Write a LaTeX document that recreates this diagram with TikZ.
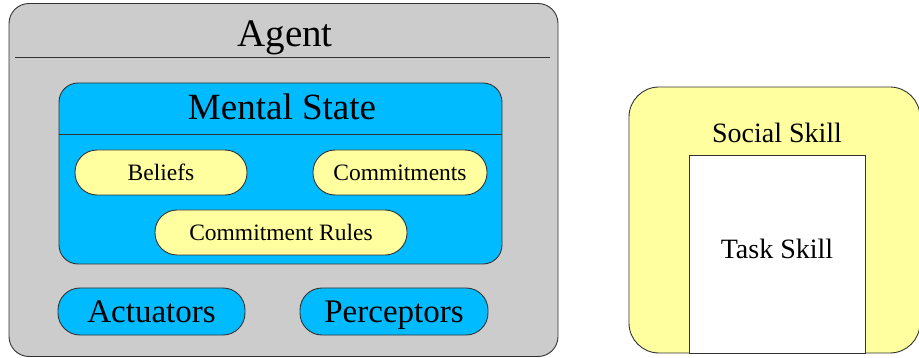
\documentclass[tikz,border=0pt]{standalone}
\usepackage{fontspec}
\setmainfont{Liberation Serif}
\definecolor{agentgray}{RGB}{204,204,204}
\definecolor{mentalblue}{RGB}{0,187,255}
\definecolor{skillyellow}{RGB}{255,255,160}
\tikzset{
  box/.style={draw=black!80, line width=0.9pt, inner sep=0pt},
  pill/.style={box, fill=skillyellow, rounded corners=22pt, minimum height=45pt, text height=15.5pt, text depth=0pt, font=\fontsize{23.5}{26}\selectfont},
  bluepill/.style={box, fill=mentalblue, rounded corners=22pt, minimum height=47pt, text height=21.8pt, text depth=0pt, font=\fontsize{33}{36}\selectfont},
  txt/.style={anchor=base, inner sep=0pt}
}
\begin{document}
\begin{tikzpicture}[x=1pt, y=-1pt]
\useasboundingbox (0,0) rectangle (919,358);

% agent
\node[box, fill=agentgray, rounded corners=20pt, minimum width=549pt, minimum height=353pt] (agent) at (283.5,180) {};
\node[txt, font=\fontsize{39}{42}\selectfont] (agenttitle) at (285,47) {Agent};
\draw[box] (15,57) -- (550,57);

% mental state
\node[box, fill=mentalblue, rounded corners=19pt, minimum width=443pt, minimum height=181pt] (mental) at (280.5,173.5) {};
\node[txt, font=\fontsize{37}{40}\selectfont] (mentaltitle) at (282,120) {Mental State};
\draw[box] (mental.west |- 0,134) -- (mental.east |- 0,134);

\node[pill, minimum width=172pt] (beliefs) at (161,172.5) {Beliefs};
\node[pill, minimum width=174pt] (commitments) at (400,172.5) {Commitments};
\node[pill, minimum width=252pt] (rules) at (281,232.5) {Commitment Rules};

\node[bluepill, minimum width=187pt] (actuators) at (151.5,311.5) {Actuators};
\node[bluepill, minimum width=188pt] (perceptors) at (394,311.5) {Perceptors};

% skills
\node[box, fill=skillyellow, rounded corners=30pt, minimum width=291pt, minimum height=266pt] (social) at (774.5,220) {};
\node[box, fill=white, minimum width=176pt, minimum height=198pt] (taskbox) at (777,254) {};
\node[txt, font=\fontsize{28}{30}\selectfont] (socialtitle) at (777,143) {Social Skill};
\node[txt, font=\fontsize{28}{30}\selectfont] (task) at (777,259) {Task Skill};

\end{tikzpicture}
\end{document}
